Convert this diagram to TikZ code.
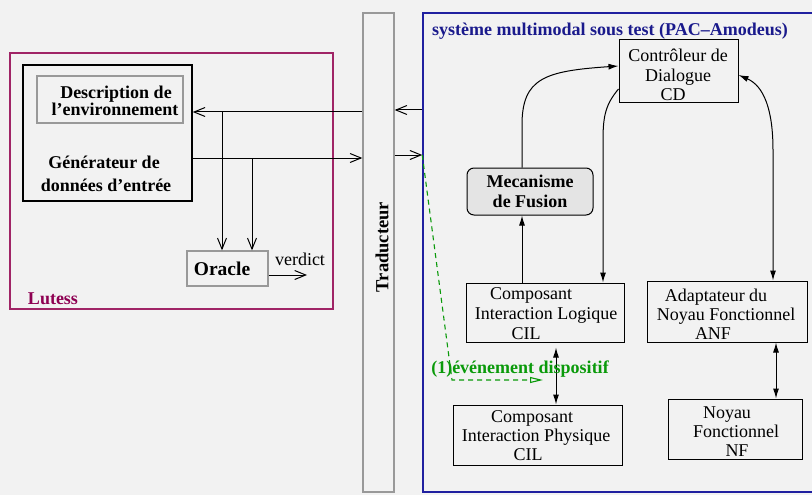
\documentclass[tikz,border=0pt]{standalone}
\usepackage{fontspec}
\setmainfont{Liberation Serif}
\usetikzlibrary{arrows.meta}
\definecolor{bg}{HTML}{F2F2F2}
\definecolor{lutessc}{HTML}{A02466}
\definecolor{lutesst}{HTML}{8E0052}
\definecolor{bluec}{HTML}{2020A0}
\definecolor{bluet}{HTML}{1A1A8C}
\definecolor{greenc}{HTML}{0A9A0A}
\definecolor{grayc}{HTML}{999999}
\definecolor{fusc}{HTML}{E4E4E4}
\begin{document}
\begin{tikzpicture}[x=1pt,y=-1pt,
  box/.style={draw, inner sep=0pt, line width=1pt},
  gbox/.style={draw=grayc, inner sep=0pt, line width=1.3pt},
  t/.style={inner sep=0pt, anchor=base, font=\fontsize{18}{20}\selectfont},
  tb/.style={inner sep=0pt, anchor=base, font=\fontsize{18}{20}\selectfont\bfseries},
  barb/.style={-{Straight Barb[length=11pt,width=9pt]}, line width=1pt},
  tri/.style={-{Latex[length=10pt,width=6pt]}, line width=1pt},
  tritwo/.style={{Latex[length=10pt,width=6pt]}-{Latex[length=10pt,width=6pt]}, line width=1pt},
  gdash/.style={draw=greenc, line width=1.1pt, dash pattern=on 5pt off 4pt,
     -{Triangle[open,length=13pt,width=6pt]}}
]
\useasboundingbox[fill=bg] (0,0) rectangle (812,495);

% ---------- Lutess ----------
\node[draw=lutessc, line width=1.2pt, inner sep=0pt, minimum width=323pt, minimum height=256pt] (lutess) at (171.5,181) {};
\node[box, line width=1.5pt, minimum width=169pt, minimum height=136pt] (gen) at (107.5,133) {};
\node[gbox, minimum width=146pt, minimum height=47pt] (desc) at (110,99.5) {};
\node[tb] (desct1) at (116,98.5) {Description de};
\node[tb] (desct2) at (115,116) {l’environnement};
\node[tb] (gent1) at (104,168) {Générateur de};
\node[tb] (gent2) at (106,191) {données d’entrée};
\node[gbox, minimum width=81pt, minimum height=35pt] (oracle) at (227.5,268.5) {};
\node[inner sep=0pt, anchor=base, font=\fontsize{19.5}{20}\selectfont\bfseries] (oraclet) at (222,275) {Oracle};
\node[t] (verdict) at (300,265) {verdict};
\coordinate (vend) at (307,275);
\node[tb, text=lutesst] (lutesst) at (53,304) {Lutess};

% ---------- Traducteur ----------
\node[gbox, minimum width=31pt, minimum height=479pt] (trad) at (378.5,252.5) {};
\node[inner sep=0pt, font=\fontsize{18.5}{20}\selectfont\bfseries, rotate=90] (tradt) at (382,247) {Traducteur};

% ---------- system ----------
\node[draw=bluec, line width=1.5pt, inner sep=0pt, minimum width=395pt, minimum height=479pt] (sys) at (620.5,252.5) {};
\node[tb, text=bluet] (title) at (610,36) {système multimodal sous test (PAC--Amodeus)};

\node[box, minimum width=119pt, minimum height=63pt] (cd) at (678.5,71.5) {};
\node[t] (cdt1) at (678,62) {Contrôleur de};
\node[t] (cdt2) at (678,82) {Dialogue};
\node[t] (cdt3) at (673,101) {CD};

\node[box, rounded corners=7pt, fill=fusc, minimum width=126pt, minimum height=47pt,
      align=center, font=\fontsize{18}{20}\selectfont\bfseries] (fus) at (530,191.5) {Mecanisme\\de Fusion};

\node[box, minimum width=158pt, minimum height=59pt] (cil) at (545,312.5) {};
\node[t] (cilt1) at (531,299) {Composant};
\node[t] (cilt2) at (546,319) {Interaction Logique};
\node[t] (cilt3) at (526,339) {CIL};

\node[box, minimum width=160pt, minimum height=61pt] (anf) at (727,311.5) {};
\node[t] (anft1) at (716,301) {Adaptateur du};
\node[t] (anft2) at (726,320) {Noyau Fonctionnel};
\node[t] (anft3) at (713,339) {ANF};

\node[box, minimum width=134pt, minimum height=60pt] (nf) at (735,429) {};
\node[t] (nft1) at (727,418) {Noyau};
\node[t] (nft2) at (736,437) {Fonctionnel};
\node[t] (nft3) at (737,456) {NF};

\node[box, minimum width=169pt, minimum height=60pt] (cip) at (537.5,435) {};
\node[t] (cipt1) at (532,422) {Composant};
\node[t] (cipt2) at (536,441) {Interaction Physique};
\node[t] (cipt3) at (528,460) {CIL};

% ---------- left connectors ----------
\draw[barb] (trad.west |- 0,112) -- (gen.east |- 0,112);
\draw[barb] (222,112) -- (oracle.north -| 222,0);
\draw[barb] (gen.east |- 0,158) -- (trad.west |- 0,158);
\draw[barb] (252,158) -- (oracle.north -| 252,0);
\draw[barb] (oracle.east |- vend) -- (vend);

% ---------- traducteur <-> system ----------
\draw[barb] (sys.west |- 0,110) -- (trad.east |- 0,110);
\draw[barb] (trad.east |- 0,155) -- (sys.west |- 0,155);

% ---------- right connectors ----------
\draw[tri] (cil.north -| 522,0) -- (fus.south -| 522,0);
\draw[tri] (fus.north -| 522,0) -- (522,125) .. controls (522,78) and (545,71) .. (cd.west |- 0,66);
\draw[tri] (cd.west |- 0,89) .. controls (606,104) and (603,115) .. (603,140) -- (cil.north -| 603,0);
\draw[tritwo] (cd.east |- 0,75) .. controls (764,86) and (773,110) .. (773,150) -- (anf.north -| 773,0);
\draw[tritwo, shorten <=5pt] (cil.south -| 556,0) -- (cip.north -| 556,0);
\draw[tritwo] (anf.south -| 776,0) -- (nf.north -| 776,0);

% ---------- green event ----------
\coordinate (gcorner) at (452,380);
\coordinate (gend) at (543,380);
\draw[gdash] (sys.west |- 0,155) -- (gcorner) -- (gend);
\node[tb, text=greenc] (gevent) at (520,373) {(1)événement dispositif};
\end{tikzpicture}
\end{document}
